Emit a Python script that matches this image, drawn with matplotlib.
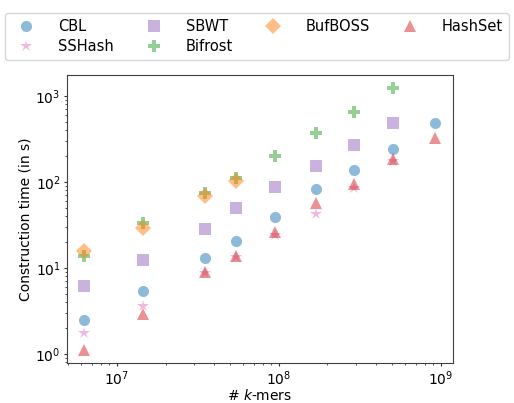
import matplotlib.pyplot as plt

# number of k-mers per dataset
kmers = [6.25e6, 1.45e7, 3.5e7, 5.43e7, 9.5e7, 1.71e8, 2.92e8, 5.08e8, 9.27e8]

# construction times (seconds)
cbl = [2.5, 5.4, 13.2, 20.6, 39.5, 83, 139, 240, 480]
sshash = [1.74, 3.6, 8.7, 13.5, 24.2, 43, 86, 175]
sbwt = [6.1, 12.4, 28.6, 50, 87, 155, 270, 485]
bifrost = [13.8, 33, 74, 110, 202, 374, 656, 1250]
bufboss = [15.9, 29.4, 69, 103]
hashset = [1.1, 2.9, 9.1, 13.9, 26, 56.5, 94, 184, 327]

fig = plt.figure(figsize=(5.14, 4.03), dpi=100)
ax = fig.add_axes([0.130, 0.099, 0.751, 0.715])

series = [
    ("CBL", cbl, "o", "tab:blue"),
    ("SSHash", sshash, "*", "tab:pink"),
    ("SBWT", sbwt, "s", "tab:purple"),
    ("Bifrost", bifrost, "P", "tab:green"),
    ("BufBOSS", bufboss, "D", "tab:orange"),
    ("HashSet", hashset, "^", "tab:red"),
]
for name, vals, mk, col in series:
    ax.plot(kmers[:len(vals)], vals, linestyle="none", marker=mk, color=col,
            alpha=0.5, markersize=9 if mk == "*" else 8, markeredgewidth=0, label=name)

ax.set_xscale("log")
ax.set_yscale("log")
ax.set_xlim(4.91e6, 1.19e9)
ax.set_ylim(0.785, 1754)
ax.set_xlabel(r"# $k$-mers", labelpad=0)
ax.set_ylabel("Construction time (in s)", labelpad=2)
ax.tick_params(which="major", length=2.5, pad=2, color="0.2")
ax.tick_params(which="minor", length=1.5, color="0.2")
for s in ax.spines.values():
    s.set_color("0.25")

fig.legend(loc="lower left", bbox_to_anchor=(0.01, 0.851, 0.98, 0.124), mode="expand",
           ncol=4, handletextpad=1.2, borderaxespad=0, fontsize=10.5, labelspacing=0.35)

fig.savefig("out.png", dpi=100)
